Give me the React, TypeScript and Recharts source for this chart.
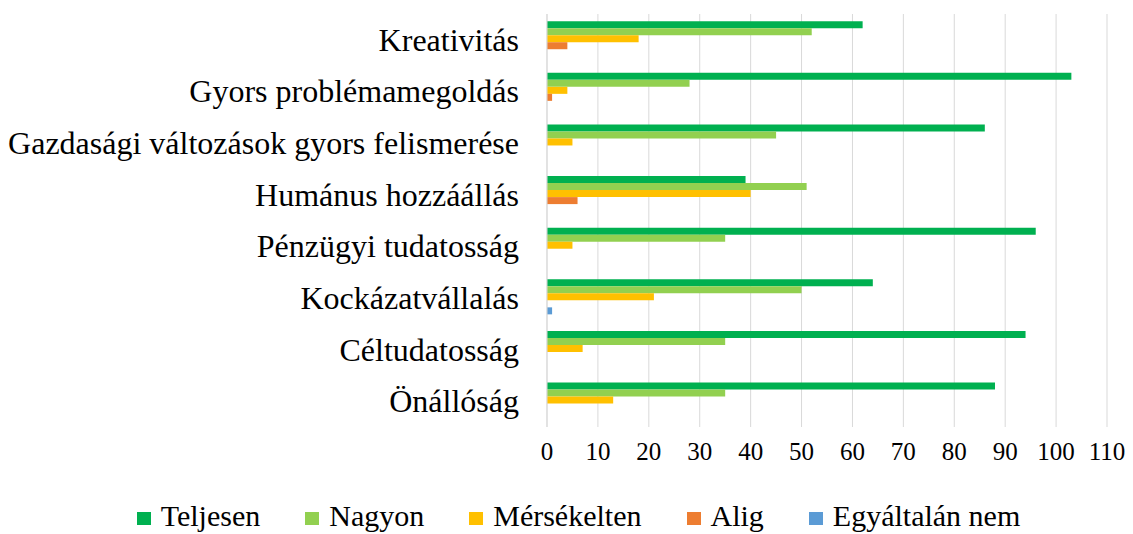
import { BarChart, Bar, XAxis, YAxis, CartesianGrid, Legend } from "recharts";

const categories = [
  "Kreativitás",
  "Gyors problémamegoldás",
  "Gazdasági változások gyors felismerése",
  "Humánus hozzáállás",
  "Pénzügyi tudatosság",
  "Kockázatvállalás",
  "Céltudatosság",
  "Önállóság",
];

const teljesen = [62, 103, 86, 39, 96, 64, 94, 88];
const nagyon = [52, 28, 45, 51, 35, 50, 35, 35];
const mersekelten = [18, 4, 5, 40, 5, 21, 7, 13];
const alig = [4, 1, 0, 6, 0, 0, 0, 0];
const egyaltalanNem = [0, 0, 0, 0, 0, 1, 0, 0];

const xTicks = [0, 10, 20, 30, 40, 50, 60, 70, 80, 90, 100, 110];

const series = [
  { key: "teljesen", name: "Teljesen", color: "#00B050" },
  { key: "nagyon", name: "Nagyon", color: "#92D050" },
  { key: "mersekelten", name: "Mérsékelten", color: "#FFC000" },
  { key: "alig", name: "Alig", color: "#ED7D31" },
  { key: "egyaltalanNem", name: "Egyáltalán nem", color: "#5B9BD5" },
];

const data = categories.map((name, i) => ({
  name,
  teljesen: teljesen[i],
  nagyon: nagyon[i],
  mersekelten: mersekelten[i],
  alig: alig[i],
  egyaltalanNem: egyaltalanNem[i],
}));

const FONT = "'Liberation Serif', 'Times New Roman', serif";

function XTick({ x, y, payload }: { x?: number; y?: number; payload?: { value: number } }) {
  return (
    <text
      x={x}
      y={(y ?? 0) + 13}
      textAnchor="middle"
      dominantBaseline="hanging"
      style={{ fontFamily: FONT, fontSize: 25, fill: "#000" }}
    >
      {payload?.value}
    </text>
  );
}

function YTick({ x, y, payload }: { x?: number; y?: number; payload?: { value: string } }) {
  return (
    <text
      x={(x ?? 0) - 26}
      y={y}
      textAnchor="end"
      dominantBaseline="central"
      style={{ fontFamily: FONT, fontSize: 32, fill: "#000" }}
    >
      {payload?.value}
    </text>
  );
}

function LegendContent() {
  return (
    <div
      style={{
        height: 60,
        boxSizing: "border-box",
        paddingTop: 24,
        paddingLeft: 16,
        display: "flex",
        justifyContent: "center",
        alignItems: "center",
        fontFamily: FONT,
        fontSize: 30,
        lineHeight: "34px",
        color: "#000",
      }}
    >
      {series.map((s, i) => (
        <div
          key={s.key}
          style={{
            display: "flex",
            alignItems: "center",
            marginRight: i < series.length - 1 ? 45 : 0,
          }}
        >
          <span
            style={{
              display: "inline-block",
              width: 14,
              height: 13,
              background: s.color,
              marginRight: 10,
              marginTop: 4,
            }}
          />
          <span style={{ fontFamily: FONT }}>{s.name}</span>
        </div>
      ))}
    </div>
  );
}

export default function App() {
  return (
    <div style={{ width: 1125, height: 526, background: "#fff", fontFamily: FONT }}>
      <BarChart
        width={1125}
        height={526}
        data={data}
        layout="vertical"
        margin={{ top: 6, right: 26, bottom: 0, left: 0 }}
        barCategoryGap="14%"
        barGap={0}
      >
        <CartesianGrid horizontal={false} stroke="#d9d9d9" />
        <XAxis
          type="number"
          domain={[0, 110]}
          ticks={xTicks}
          interval={0}
          height={47}
          axisLine={false}
          tickLine={false}
          tickSize={0}
          tick={<XTick />}
        />
        <YAxis
          type="category"
          dataKey="name"
          width={539}
          axisLine={{ stroke: "#d9d9d9" }}
          tickLine={false}
          tickSize={0}
          interval={0}
          tick={<YTick />}
        />
        <Legend
          verticalAlign="bottom"
          height={60}
          wrapperStyle={{ left: 0, width: 1125 }}
          content={<LegendContent />}
        />
        {series.map((s) => (
          <Bar
            key={s.key}
            dataKey={s.key}
            name={s.name}
            fill={s.color}
            isAnimationActive={false}
          />
        ))}
      </BarChart>
    </div>
  );
}
